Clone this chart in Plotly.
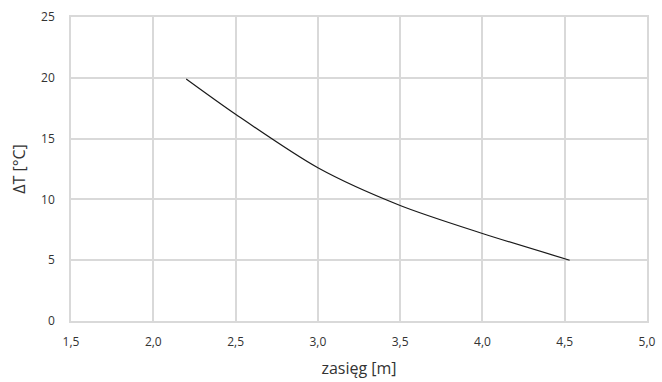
import plotly.graph_objects as go

zasieg = [2.2, 2.5, 3.0, 3.5, 4.0, 4.53]
delta_t = [19.9, 17.0, 12.6, 9.5, 7.2, 5.0]

x_ticks = [1.5, 2.0, 2.5, 3.0, 3.5, 4.0, 4.5, 5.0]
x_labels = ["1,5", "2,0", "2,5", "3,0", "3,5", "4,0", "4,5", "5,0"]
y_ticks = [0, 5, 10, 15, 20, 25]

fig = go.Figure()
fig.add_trace(go.Scatter(
    x=zasieg, y=delta_t, mode="lines",
    line=dict(color="#1a1a1a", width=1.2, shape="spline", smoothing=0.8),
    showlegend=False,
))

font = "Open Sans, Noto Sans, sans-serif"
grid = "#d9d9d9"
fig.update_layout(
    width=662, height=382,
    margin=dict(l=71, r=15, t=17, b=61),
    paper_bgcolor="white", plot_bgcolor="white",
    font=dict(family=font, color="#333333", size=12),
    xaxis=dict(
        range=[1.5, 5.0], tickvals=x_ticks, ticktext=x_labels,
        showgrid=True, gridcolor=grid, gridwidth=1.5,
        showline=True, linecolor=grid, linewidth=1.5, mirror=True,
        zeroline=False, ticks="", ticklabelstandoff=9, automargin=False,
        title=dict(text="zasięg [m]", font=dict(size=16, color="#333333"), standoff=14),
    ),
    yaxis=dict(
        range=[0, 25], tickvals=y_ticks,
        showgrid=True, gridcolor=grid, gridwidth=1.5,
        showline=True, linecolor=grid, linewidth=1.5, mirror=True,
        zeroline=False, ticks="", ticklabelstandoff=12, automargin=False,
        title=dict(text="ΔT [°C]", font=dict(size=16, color="#333333"), standoff=12),
    ),
)

fig.write_html("out.html")
